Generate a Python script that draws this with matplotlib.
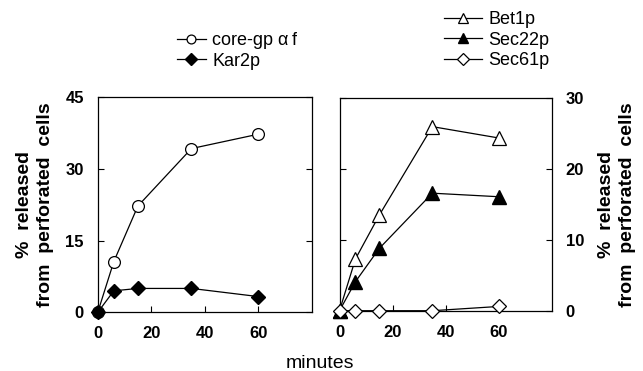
import matplotlib
matplotlib.use('Agg')
import matplotlib.pyplot as plt

plt.rcParams['font.family'] = ['Liberation Sans', 'DejaVu Sans']

# time points (minutes)
minutes = [0, 6, 15, 35, 60]

# left panel
core_gp_af = [0, 10.6, 22.2, 34.2, 37.2]
kar2p = [0, 4.5, 5.0, 5.0, 3.3]

# right panel
bet1p = [0, 7.3, 13.5, 26.0, 24.4]
sec22p = [0, 4.1, 8.8, 16.6, 16.1]
sec61p = [0, 0, 0, 0, 0.6]

left_yticks = [0, 15, 30, 45]
right_yticks = [0, 10, 20, 30]
xticks = [0, 20, 40, 60]

ylab = '%  released\nfrom  perforated  cells'

fig = plt.figure(figsize=(6.43, 3.71), dpi=100)
ax1 = fig.add_axes([0.152, 0.158, 0.333, 0.581])
ax2 = fig.add_axes([0.528, 0.1625, 0.330, 0.5725])

lw = 0.9
ms = 8.5

ax1.plot(minutes, core_gp_af, color='black', lw=lw, marker='o', ms=ms,
         mfc='white', mec='black', mew=0.9, clip_on=False, label='core-gp \u03b1\u2009f', zorder=3)
ax1.plot(minutes, kar2p, color='black', lw=lw, marker='D', ms=7.5,
         mfc='black', mec='black', clip_on=False, label='Kar2p', zorder=3)
ax1.set_xlim(0, 80)
ax1.set_ylim(0, 45)
ax1.set_yticks(left_yticks)
ax1.set_xticks(xticks)
ax1.set_ylabel(ylab, fontsize=14, fontweight='bold', linespacing=1.35, labelpad=8)

ax2.plot(minutes, bet1p, color='black', lw=lw, marker='^', ms=9.5,
         mfc='white', mec='black', mew=0.9, clip_on=False, label='Bet1p', zorder=3)
ax2.plot(minutes, sec22p, color='black', lw=lw, marker='^', ms=9.5,
         mfc='black', mec='black', clip_on=False, label='Sec22p', zorder=3)
ax2.plot(minutes, sec61p, color='black', lw=lw, marker='D', ms=7.5,
         mfc='white', mec='black', mew=0.9, clip_on=False, label='Sec61p', zorder=3)
ax2.set_xlim(0, 80)
ax2.set_ylim(0, 30)
ax2.set_yticks(right_yticks)
ax2.set_xticks(xticks)
ax2.yaxis.tick_right()
ax2.yaxis.set_label_position('right')
ax2.set_ylabel(ylab, fontsize=14, fontweight='bold', linespacing=1.35, labelpad=10)

for ax in (ax1, ax2):
    ax.tick_params(direction='in', length=4, width=0.8, top=False,
                   left=True, right=True, labelsize=12, pad=10)
    for lab in ax.get_xticklabels() + ax.get_yticklabels():
        lab.set_fontweight('bold')
    for s in ax.spines.values():
        s.set_linewidth(0.9)
ax1.tick_params(labelright=False)
ax2.tick_params(labelleft=False, labelright=True)

fig.text(0.498, 0.009, 'minutes', ha='center', va='baseline', fontsize=14)

leg1 = fig.legend(handles=ax1.get_lines(), loc='upper left', bbox_to_anchor=(0.264, 0.933),
                  frameon=False, fontsize=13, handlelength=1.6, labelspacing=0.2,
                  handletextpad=0.35, markerscale=0.75, borderaxespad=0)
leg2 = fig.legend(handles=ax2.get_lines(), loc='upper left', bbox_to_anchor=(0.68, 0.99),
                  frameon=False, fontsize=13, handlelength=2.1, labelspacing=0.2,
                  handletextpad=0.35, markerscale=0.75, borderaxespad=0)

fig.savefig('out.png', dpi=100)
